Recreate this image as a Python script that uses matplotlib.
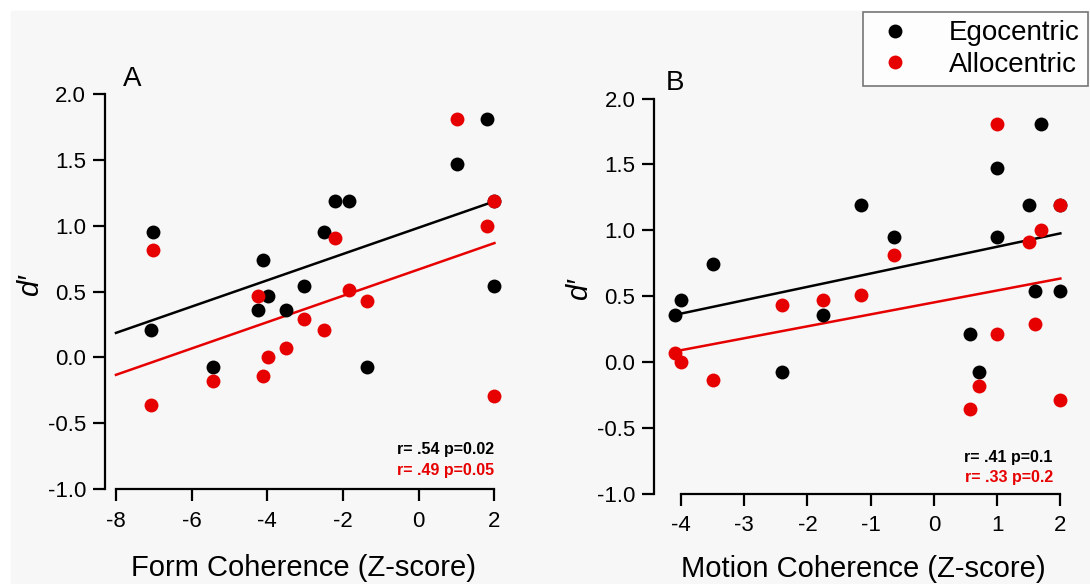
import numpy as np
import matplotlib
matplotlib.use('Agg')
import matplotlib.pyplot as plt
from matplotlib.patches import Rectangle
from matplotlib.lines import Line2D

plt.rcParams['font.family'] = ['Liberation Sans', 'DejaVu Sans']
plt.rcParams['axes.unicode_minus'] = False

# one entry per subject
form_z = [-7.03, -7.08, -5.44, -4.25, -4.11, -3.98, -3.5, -3.03,
          -2.51, -2.21, -1.83, -1.38, 1.0, 1.81, 2.0, 2.0]
motion_z = [-0.63, 0.57, 0.71, -1.75, -3.49, -4.0, -4.1, 1.6,
            1.0, 1.5, -1.15, -2.4, 1.0, 1.7, 2.0, 2.0]
ego = [0.95, 0.21, -0.075, 0.36, 0.74, 0.47, 0.36, 0.54,
       0.95, 1.19, 1.19, -0.075, 1.47, 1.81, 0.54, 1.19]
allo = [0.815, -0.36, -0.18, 0.47, -0.14, 0.0, 0.07, 0.29,
        0.21, 0.91, 0.51, 0.43, 1.81, 1.0, -0.29, 1.19]

stats_a = ['r= .54 p=0.02', 'r= .49 p=0.05']
stats_b = ['r= .41 p=0.1', 'r= .33 p=0.2']

black = 'black'
red = '#e60000'

W, H = 1090, 584
fig = plt.figure(figsize=(W / 100, H / 100), dpi=100, facecolor='white')
fig.patches.append(Rectangle((11 / W, 0), 1 - 11 / W, 1 - 11 / H,
                             transform=fig.transFigure, color='#f7f7f7', zorder=-1))


def make_axes(rect, xlim, xbounds, xticks, fit_range, stats, stats_y, letter, letter_x,
              xlabel, xlabel_pad, text_x, xdata):
    ax = fig.add_axes([rect[0] / W, 1 - (rect[1] + rect[3]) / H, rect[2] / W, rect[3] / H])
    ax.patch.set_alpha(0)
    ax.set_xlim(*xlim)
    ax.set_ylim(-1.0, 2.1)
    for s in ['top', 'right']:
        ax.spines[s].set_visible(False)
    ax.spines['left'].set_bounds(-1, 2)
    ax.spines['bottom'].set_bounds(*xbounds)
    for s in ['left', 'bottom']:
        ax.spines[s].set_linewidth(1.6)
    ax.set_xticks(xticks)
    ax.set_yticks([-1.0, -0.5, 0.0, 0.5, 1.0, 1.5, 2.0])
    ax.set_yticklabels(['%.1f' % v for v in ax.get_yticks()])
    ax.tick_params(length=8.5, width=1.6, labelsize=16, pad=5)
    ax.tick_params(axis='x', pad=7)

    for yv, c in [(ego, black), (allo, red)]:
        ax.plot(xdata, yv, 'o', color=c, ms=10, mec='none', zorder=3)
        k, b = np.polyfit(xdata, yv, 1)
        xs = np.array(fit_range if fit_range else [min(xdata), max(xdata)])
        ax.plot(xs, k * xs + b, color=c, lw=1.8, zorder=2)

    ax.text(text_x, stats_y[0], stats[0], color=black, fontsize=11.5, fontweight='bold',
            ha='right', va='center')
    ax.text(text_x, stats_y[1], stats[1], color=red, fontsize=11.5, fontweight='bold',
            ha='right', va='center')
    ax.text(letter_x / rect[2], 1.005, letter, transform=ax.transAxes, fontsize=20, va='center')
    ax.set_ylabel("d\u2032", fontsize=21, style='italic', labelpad=3)
    ax.set_xlabel(xlabel, fontsize=21, labelpad=xlabel_pad)
    return ax


ax_a = make_axes((105, 81, 397, 408), (-8.29, 2.2), (-8, 2), range(-8, 3, 2), [-8, 2],
                 stats_a, (-0.70, -0.86), 'A', 18, 'Form Coherence (Z-score)', 16,
                 2.0, form_z)
ax_b = make_axes((654, 85.5, 419, 408), (-4.427, 2.2), (-4, 2), range(-4, 3), None,
                 stats_b, (-0.725, -0.88), 'B', 12, 'Motion Coherence (Z-score)', 14,
                 1.88, motion_z)

handles = [Line2D([], [], marker='o', ls='none', color=black, ms=10, mec='none'),
           Line2D([], [], marker='o', ls='none', color=red, ms=10, mec='none')]
leg = fig.legend(handles, ['Egocentric', 'Allocentric'], loc='upper right',
                 bbox_to_anchor=(1088 / W, 1 - 12 / H), fontsize=20, frameon=True,
                 fancybox=False, borderaxespad=0, handletextpad=1.1, labelspacing=0.2,
                 borderpad=0.3, handlelength=1.7)
leg.get_frame().set_edgecolor('#555555')
leg.get_frame().set_linewidth(1.2)
leg.get_frame().set_facecolor('white')

fig.savefig('out.png', dpi=100, facecolor='white')
